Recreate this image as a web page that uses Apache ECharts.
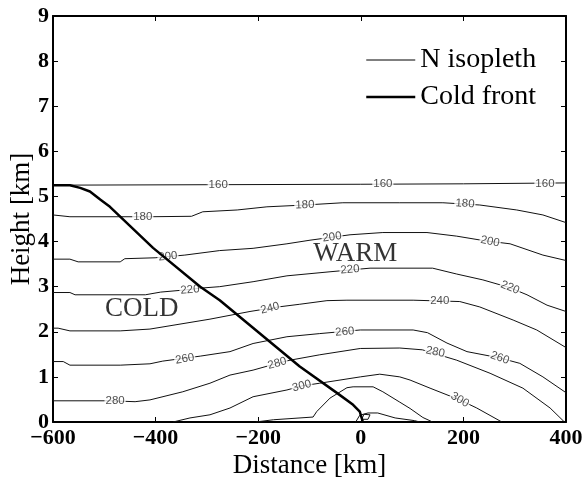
<!DOCTYPE html>
<html>
<head>
<meta charset="utf-8">
<script src="https://cdn.jsdelivr.net/npm/echarts@6/dist/echarts.min.js"></script>
<style>html,body{margin:0;padding:0;background:#fff}#c{width:584px;height:484px}</style>
</head>
<body>
<div id="c"></div>
<script>
// ---- data (distance km, height km) ----
const xTicks = [-600, -400, -200, 0, 200, 400];
const yTicks = [0, 1, 2, 3, 4, 5, 6, 7, 8, 9];
const isoLevels = [160, 180, 200, 220, 240, 260, 280, 300, 320, 340];
const iso160 = [[-600,5.25],[-300,5.26],[0,5.27],[200,5.28],[400,5.30]];
const iso180 = [[-600,4.59],[-567,4.55],[-411,4.55],[-330,4.56],[-308,4.66],[-241,4.70],[-183,4.77],[-109,4.81],[-35,4.86],[76,4.86],[160,4.86],[232,4.81],[304,4.70],[355,4.59],[400,4.42]];
const iso200 = [[-600,3.61],[-567,3.61],[-551,3.55],[-469,3.55],[-460,3.62],[-401,3.64],[-343,3.70],[-275,3.80],[-210,3.85],[-144,3.95],[-99,4.03],[-21,4.15],[43,4.20],[129,4.20],[187,4.12],[240,4.02],[291,3.95],[355,3.70],[400,3.58]];
const iso220 = [[-600,2.87],[-567,2.87],[-557,2.82],[-420,2.82],[-390,2.88],[-340,2.93],[-310,2.97],[-275,3.00],[-210,3.11],[-144,3.24],[-60,3.33],[18,3.41],[140,3.41],[187,3.28],[238,3.15],[290,2.98],[324,2.82],[363,2.59],[400,2.45]];
const iso240 = [[-600,2.08],[-590,2.08],[-567,2.02],[-469,2.02],[-411,2.06],[-294,2.28],[-216,2.45],[-161,2.55],[-119,2.61],[-66,2.69],[-27,2.70],[102,2.70],[193,2.67],[232,2.55],[297,2.26],[343,2.04],[400,1.65]];
const iso260 = [[-600,1.34],[-580,1.34],[-567,1.26],[-469,1.26],[-411,1.29],[-386,1.35],[-313,1.46],[-255,1.56],[-210,1.74],[-144,1.89],[-80,1.96],[-1,2.04],[102,2.04],[130,1.98],[168,1.75],[207,1.56],[271,1.42],[310,1.30],[355,1.00],[400,0.65]];
const iso280 = [[-600,0.47],[-489,0.47],[-440,0.45],[-411,0.49],[-347,0.67],[-294,0.86],[-255,1.04],[-210,1.15],[-163,1.30],[-138,1.37],[-80,1.49],[-1,1.63],[76,1.64],[120,1.60],[187,1.37],[252,1.08],[316,0.75],[369,0.31],[397,0]];
const iso300 = [[-366,0],[-333,0.09],[-294,0.16],[-255,0.31],[-210,0.56],[-144,0.71],[-115,0.80],[-80,0.86],[-1,1.00],[37,1.06],[76,1.00],[96,0.93],[135,0.75],[193,0.49],[226,0.31],[275,0]];
const iso320 = [[-205,0],[-170,0.05],[-93,0.11],[-86,0.23],[-60,0.53],[-27,0.76],[-15,0.78],[24,0.78],[43,0.67],[76,0.44],[96,0.30],[121,0.10],[140,0]];
const iso340 = [[-10,0],[-2,0.15],[14,0.20],[33,0.20],[67,0.09],[105,0.03],[115,0]];
const iso360 = [[2,0.06],[6,0.17],[18,0.16],[14,0.06],[2,0.06]];
const coldFront = [[-600,5.25],[-567,5.25],[-547,5.19],[-528,5.11],[-508,4.93],[-489,4.77],[-405,3.86],[-313,3.00],[-275,2.70],[-119,1.23],[-46,0.64],[-15,0.38],[-2,0.23],[4,0.0]];
// contour labels: [x, y, text, angle]
const isoLabels = [
  [-278,5.26,'160',0],[43,5.27,'160',0],[359,5.29,'160',0],
  [-425,4.55,'180',0],[-109,4.81,'180',2],[203,4.84,'180',-4],
  [-376,3.67,'200',5],[-56,4.10,'200',8],[252,4.00,'200',-12],
  [-333,2.93,'220',5],[-21,3.38,'220',5],[291,2.98,'220',-22],
  [-177,2.52,'240',14],[154,2.69,'240',0],
  [-343,1.40,'260',10],[-31,2.00,'260',5],[271,1.42,'260',-20],
  [-479,0.47,'280',0],[-163,1.30,'280',15],[145,1.55,'280',-12],
  [-115,0.80,'300',15],[193,0.49,'300',-30]
];
const regionLabels = [[-427,2.5,'COLD'],[-11,3.72,'WARM']];
const legendNames = ['N isopleth', 'Cold front'];

const isoSets = [iso160, iso180, iso200, iso220, iso240, iso260, iso280, iso300, iso320, iso340, iso360];

const chart = echarts.init(document.getElementById('c'), null, {renderer: 'canvas'});
const serif = 'Liberation Serif';
const minus = v => String(v).replace('-', '\u2212');

const series = [];
isoSets.forEach((d) => {
  series.push({
    name: legendNames[0], type: 'line', data: d, symbol: 'none', smooth: false,
    lineStyle: {color: '#111', width: 1}, itemStyle: {color: '#111'}, z: 2, silent: true
  });
});
series.push({
  name: 'Contour labels', type: 'scatter', symbolSize: 0, z: 3, silent: true,
  data: isoLabels.map(l => ({value: [l[0], l[1]], label: {formatter: l[2], rotate: l[3]}})),
  label: {show: true, position: 'inside', color: '#222', fontFamily: 'Liberation Sans', fontSize: 11.5,
          backgroundColor: '#fff', padding: [0, 1]}
});
series.push({
  name: legendNames[1], type: 'line', data: coldFront, symbol: 'none', smooth: false,
  lineStyle: {color: '#000', width: 2.5}, itemStyle: {color: '#000'}, z: 4, silent: true
});
series.push({
  name: 'Regions', type: 'scatter', symbolSize: 0, z: 5, silent: true,
  data: regionLabels.map(l => ({value: [l[0], l[1]], label: {formatter: l[2]}})),
  label: {show: true, position: 'inside', color: '#000', fontFamily: serif, fontSize: 27}
});

const axisCommon = {
  axisLine: {show: true, onZero: false, lineStyle: {color: '#000', width: 2}},
  axisTick: {show: true, inside: true, length: 5, lineStyle: {color: '#000', width: 1}},
  splitLine: {show: false}
};

const option = {
  animation: false,
  backgroundColor: '#fff',
  grid: {left: 53, right: 18, top: 16, bottom: 62, containLabel: false, outerBoundsMode: 'none'},
  legend: {
    data: [
      {name: legendNames[0], lineStyle: {width: 1, color: '#000'}},
      {name: legendNames[1], lineStyle: {width: 2.5, color: '#000'}}
    ],
    orient: 'vertical', left: 360, top: 40, itemWidth: 49, itemHeight: 12, itemGap: 7,
    selectedMode: false, itemStyle: {opacity: 0},
    textStyle: {fontFamily: serif, fontSize: 28, color: '#000', lineHeight: 30}
  },
  xAxis: [Object.assign({
    type: 'value', min: xTicks[0], max: xTicks[xTicks.length - 1], interval: 200, position: 'bottom',
    name: 'Distance [km]', nameLocation: 'middle', nameGap: 30, nameMoveOverlap: false,
    nameTextStyle: {fontFamily: serif, fontSize: 27, color: '#000'},
    axisLabel: {fontFamily: serif, fontWeight: 'bold', fontSize: 22, color: '#000', margin: 5, formatter: minus}
  }, axisCommon), Object.assign({
    type: 'value', min: xTicks[0], max: xTicks[xTicks.length - 1], interval: 200, position: 'top',
    axisLabel: {show: false}
  }, axisCommon)],
  yAxis: [Object.assign({
    type: 'value', min: yTicks[0], max: yTicks[yTicks.length - 1], interval: 1, position: 'left',
    name: 'Height [km]', nameLocation: 'middle', nameGap: 18, nameMoveOverlap: false,
    nameTextStyle: {fontFamily: serif, fontSize: 27, color: '#000'},
    axisLabel: {fontFamily: serif, fontWeight: 'bold', fontSize: 22, color: '#000', margin: 4}
  }, axisCommon), Object.assign({
    type: 'value', min: yTicks[0], max: yTicks[yTicks.length - 1], interval: 1, position: 'right',
    axisLabel: {show: false}
  }, axisCommon)],
  series: series
};
chart.setOption(option);
</script>
</body>
</html>
